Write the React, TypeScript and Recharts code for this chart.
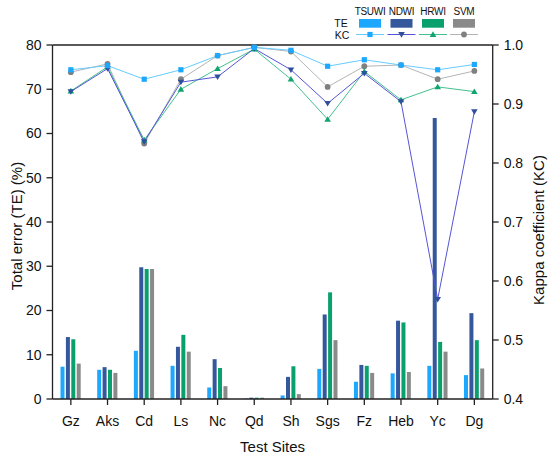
import { ComposedChart, Bar, Line, XAxis, YAxis, ReferenceLine } from 'recharts'

const sites = ['Gz', 'Aks', 'Cd', 'Ls', 'Nc', 'Qd', 'Sh', 'Sgs', 'Fz', 'Heb', 'Yc', 'Dg']

// total error (%)
const teTSUWI = [7.3, 6.6, 10.9, 7.5, 2.6, 0.1, 0.8, 6.8, 3.9, 5.8, 7.5, 5.4]
const teNDWI = [14.0, 7.2, 29.8, 11.8, 9.0, 0.3, 5.0, 19.1, 7.7, 17.7, 63.5, 19.4]
const teHRWI = [13.5, 6.6, 29.4, 14.5, 7.0, 0.3, 7.4, 24.1, 7.5, 17.3, 12.9, 13.3]
const teSVM = [8.0, 5.9, 29.4, 10.7, 2.9, 0.3, 1.1, 13.3, 5.9, 6.1, 10.7, 6.9]

// kappa coefficient
const kcTSUWI = [0.958, 0.965, 0.942, 0.958, 0.982, 0.996, 0.991, 0.964, 0.975, 0.966, 0.958, 0.967]
const kcNDWI = [0.921, 0.96, 0.836, 0.937, 0.946, 0.994, 0.958, 0.901, 0.952, 0.904, 0.569, 0.887]
const kcHRWI = [0.922, 0.963, 0.839, 0.925, 0.96, 0.993, 0.942, 0.874, 0.955, 0.907, 0.929, 0.921]
const kcSVM = [0.954, 0.968, 0.833, 0.942, 0.982, 0.996, 0.989, 0.929, 0.964, 0.966, 0.942, 0.956]

const teTicks = [0, 10, 20, 30, 40, 50, 60, 70, 80]
const kcTicks = [0.4, 0.5, 0.6, 0.7, 0.8, 0.9, 1.0]

const methods = ['TSUWI', 'NDWI', 'HRWI', 'SVM']

const FONT = '"Liberation Sans", Arial, sans-serif'

const barColors: Record<string, string> = {
  TSUWI: '#1ca8ff',
  NDWI: '#34589b',
  HRWI: '#0aa06e',
  SVM: '#8a8a8a',
}
const lineColors: Record<string, string> = {
  TSUWI: '#66ccff',
  NDWI: '#5555d6',
  HRWI: '#44c08f',
  SVM: '#b5b5b5',
}
const markColors: Record<string, string> = {
  TSUWI: '#1ca8ff',
  NDWI: '#2f4f9c',
  HRWI: '#10a56e',
  SVM: '#808080',
}

const data = sites.map((site, i) => ({
  site,
  teTSUWI: teTSUWI[i],
  teNDWI: teNDWI[i],
  teHRWI: teHRWI[i],
  teSVM: teSVM[i],
  kcTSUWI: kcTSUWI[i],
  kcNDWI: kcNDWI[i],
  kcHRWI: kcHRWI[i],
  kcSVM: kcSVM[i],
}))

function marker(method: string, cx: number, cy: number, key?: string | number) {
  const c = markColors[method]
  if (method === 'TSUWI') return <rect key={key} x={cx - 2.6} y={cy - 2.6} width={5.2} height={5.2} fill={c} />
  if (method === 'NDWI')
    return <path key={key} d={`M${cx - 3.3},${cy - 2.4}L${cx + 3.3},${cy - 2.4}L${cx},${cy + 3.2}Z`} fill={c} />
  if (method === 'HRWI')
    return <path key={key} d={`M${cx - 3.3},${cy + 2.4}L${cx + 3.3},${cy + 2.4}L${cx},${cy - 3.2}Z`} fill={c} />
  return <circle key={key} cx={cx} cy={cy} r={2.9} fill={c} />
}

const makeDot = (method: string) => (props: any) => marker(method, props.cx, props.cy, props.index)

function Overlay() {
  const rectX = [359, 390.5, 422, 453]
  return (
    <svg
      width={550}
      height={457}
      style={{ position: 'absolute', left: 0, top: 0, pointerEvents: 'none' }}
      fontFamily={FONT}
    >
      <text x={341} y={26.5} fontSize={10.5} textAnchor="middle" fill="#111">TE</text>
      <text x={342} y={38.5} fontSize={10.5} textAnchor="middle" fill="#111">KC</text>
      {methods.map((m, i) => (
        <g key={m}>
          <text x={rectX[i] + 11} y={15} fontSize={10} letterSpacing={-0.3} textAnchor="middle" fill="#111">
            {m}
          </text>
          <rect x={rectX[i]} y={19} width={22} height={8.7} fill={barColors[m]} />
          <line x1={rectX[i] - 3} x2={rectX[i] + 25} y1={34.5} y2={34.5} stroke={lineColors[m]} strokeWidth={1} />
          {marker(m, rectX[i] + 11, 34.5)}
        </g>
      ))}
      <text transform="translate(22,226) rotate(-90)" textAnchor="middle" fontSize={15} fill="#111">
        Total error (TE) (%)
      </text>
      <text transform="translate(544,230) rotate(-90)" textAnchor="middle" fontSize={15} fill="#111">
        Kappa coefficient (KC)
      </text>
      <text x={272.6} y={452} textAnchor="middle" fontSize={15} fill="#111">Test Sites</text>
    </svg>
  )
}

export default function App() {
  const axisLine = { stroke: '#222', strokeWidth: 1.3 }
  const tick = { fontSize: 14, fill: '#111', fontFamily: FONT }
  return (
    <div style={{ position: 'absolute', left: 0, top: 0, width: 550, height: 457, background: '#fff' }}>
      <ComposedChart
        width={550}
        height={457}
        data={data}
        margin={{ top: 45, right: 12.3, left: 12.5, bottom: 28 }}
        barSize={4}
        barGap={1.4}
      >
        <XAxis
          dataKey="site"
          height={30}
          axisLine={axisLine}
          tickLine={axisLine}
          tickSize={6}
          tickMargin={11}
          tick={tick}
          interval={0}
        />
        <YAxis
          yAxisId="te"
          width={40}
          domain={[0, 80]}
          ticks={teTicks}
          axisLine={axisLine}
          tickLine={axisLine}
          tickSize={6}
          tickMargin={5}
          tick={tick}
        />
        <YAxis
          yAxisId="kc"
          orientation="right"
          width={45}
          domain={[0.4, 1.0]}
          ticks={kcTicks}
          tickFormatter={(v: number) => v.toFixed(1)}
          axisLine={axisLine}
          tickLine={axisLine}
          tickSize={6}
          tickMargin={5}
          tick={tick}
        />
        <ReferenceLine yAxisId="te" y={80} stroke="#222" strokeWidth={1.3} />
        {methods.map((m) => (
          <Bar
            key={'te' + m}
            yAxisId="te"
            dataKey={'te' + m}
            fill={barColors[m]}
            isAnimationActive={false}
          />
        ))}
        {['SVM', 'HRWI', 'NDWI', 'TSUWI'].map((m) => (
          <Line
            key={'kc' + m}
            yAxisId="kc"
            dataKey={'kc' + m}
            stroke={lineColors[m]}
            strokeWidth={1}
            dot={makeDot(m)}
            activeDot={false}
            isAnimationActive={false}
          />
        ))}
      </ComposedChart>
      <Overlay />
    </div>
  )
}
